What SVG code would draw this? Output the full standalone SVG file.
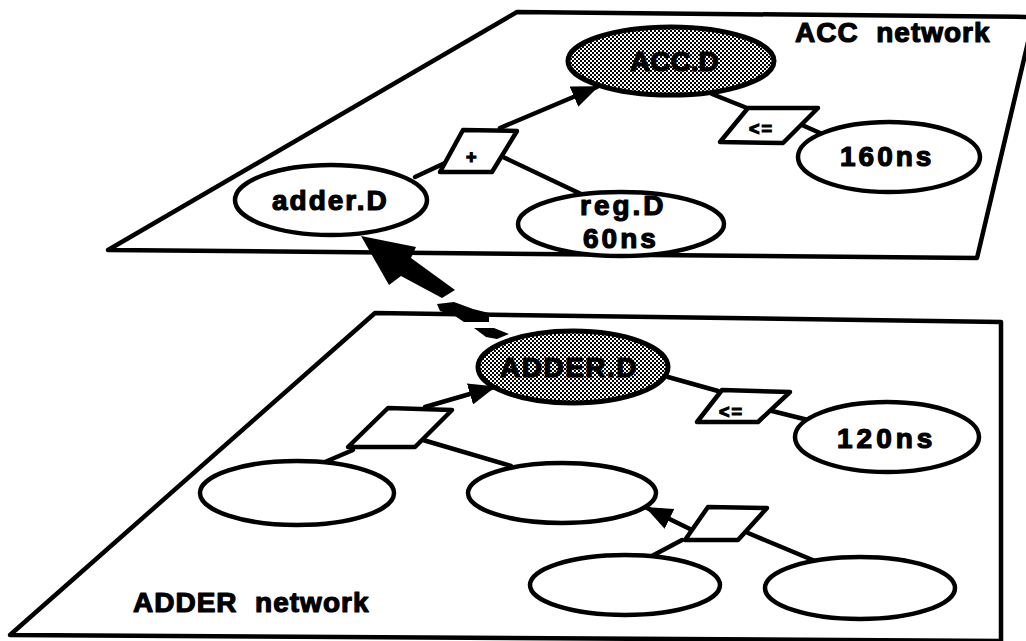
<svg xmlns="http://www.w3.org/2000/svg" width="1026" height="641" viewBox="0 0 1026 641">
  <style>
    .plane { fill: #fff; stroke: #000; stroke-width: 4.5; stroke-linejoin: round; }
    .node { fill: #fff; stroke: #000; stroke-width: 4.5; }
    .shaded { fill: url(#halftone); stroke: #000; stroke-width: 5; }
    .op { fill: #fff; stroke: #000; stroke-width: 4.5; stroke-linejoin: round; }
    .edge { fill: none; stroke: #000; stroke-width: 4.5; stroke-linecap: round; }
    .lbl { font-family: "Liberation Sans", Arial, sans-serif; font-weight: bold; font-size: 28px; fill: #000; stroke: #000; stroke-width: 1.2px; stroke-linejoin: round; }
    .num { letter-spacing: 3px; }
    .title { white-space: pre; letter-spacing: 1px; }
    .opl { font-family: "Liberation Sans", Arial, sans-serif; font-weight: bold; font-size: 18px; fill: #000; stroke: #000; stroke-width: 1.2px; letter-spacing: 2px; }
  </style>
  <defs>
    <!-- halftone screen used for the highlighted nodes -->
    <pattern id="halftone" patternUnits="userSpaceOnUse" width="4" height="4">
      <rect width="4" height="4" fill="#fff"/>
      <rect x="0" y="0" width="2" height="2" fill="#000"/>
      <rect x="2" y="2" width="2" height="2" fill="#000"/>
    </pattern>
    <marker id="head" markerUnits="userSpaceOnUse" markerWidth="28" markerHeight="22" refX="25" refY="11" orient="auto">
      <path d="M0,0 L27,11 L0,22 Z" fill="#000"/>
    </marker>
  </defs>

  <!-- the two network planes -->
  <g id="plane-acc">
    <polygon class="plane" points="517,12 1034,17 977,258 108,250"/>
    <text class="lbl title" x="795" y="42">ACC  network</text>
  </g>
  <g id="plane-adder">
    <polygon class="plane" points="375,313 1001,322 1001,641 10,635"/>
    <text class="lbl title" x="133" y="612">ADDER  network</text>
  </g>

  <!-- connectors -->
  <g id="connectors">
    <!-- ACC plane -->
    <line class="edge" x1="415" y1="177" x2="445" y2="163"/>
    <line class="edge" x1="500" y1="128" x2="597" y2="87" marker-end="url(#head)"/>
    <line class="edge" x1="503" y1="157" x2="581" y2="194"/>
    <line class="edge" x1="712" y1="94" x2="752" y2="110"/>
    <line class="edge" x1="802" y1="125" x2="820" y2="133"/>
    <!-- ADDER plane -->
    <line class="edge" x1="325" y1="462" x2="353" y2="450"/>
    <line class="edge" x1="425" y1="407" x2="494" y2="387" marker-end="url(#head)"/>
    <line class="edge" x1="423" y1="440" x2="511" y2="466"/>
    <line class="edge" x1="668" y1="377" x2="718" y2="391"/>
    <line class="edge" x1="768" y1="410" x2="808" y2="420"/>
    <line class="edge" x1="692" y1="530" x2="647" y2="508" marker-end="url(#head)"/>
    <line class="edge" x1="682" y1="540" x2="650" y2="557"/>
    <line class="edge" x1="748" y1="533" x2="815" y2="561"/>
    <!-- refinement arrow between the planes -->
    <g id="refines" fill="#000">
      <polygon points="361,236 416,247 411,258 455,290 442,298 401,276 389,285"/>
      <polygon points="437,304 454,302 473,309 489,313 489,322 464,322 455,316 440,311"/>
      <polygon points="474,328 494,328 509,334 497,339 486,337"/>
    </g>
  </g>

  <!-- ACC network nodes -->
  <g id="acc-d">
    <ellipse class="shaded" cx="671" cy="61" rx="103" ry="34"/>
    <text class="lbl" x="630" y="71">ACC.D</text>
  </g>
  <g id="op-plus">
    <polygon class="op" points="463,130 517,131 492,172 440,172"/>
    <text class="opl" x="466" y="163" style="letter-spacing:0">+</text>
  </g>
  <g id="adder-d">
    <ellipse class="node" cx="331" cy="200" rx="96" ry="35"/>
    <text class="lbl" x="272" y="210" style="letter-spacing:2px">adder.D</text>
  </g>
  <g id="reg-d">
    <ellipse class="node" cx="621" cy="224" rx="103" ry="32"/>
    <text class="lbl num" x="580" y="215">reg.D</text>
    <text class="lbl num" x="583" y="248">60ns</text>
  </g>
  <g id="op-le-acc">
    <polygon class="op" points="748,108 818,108 783,143 720,142"/>
    <text class="opl" x="749" y="135">&lt;=</text>
  </g>
  <g id="t160">
    <ellipse class="node" cx="889" cy="157" rx="91" ry="35"/>
    <text class="lbl num" x="840" y="166">160ns</text>
  </g>

  <!-- ADDER network nodes -->
  <g id="adder-d-up">
    <ellipse class="shaded" cx="573" cy="367" rx="95" ry="36"/>
    <text class="lbl" x="500" y="377" style="letter-spacing:1.5px">ADDER.D</text>
  </g>
  <g id="op-add">
    <polygon class="op" points="388,408 452,410 415,447 348,447"/>
  </g>
  <g id="in-a">
    <ellipse class="node" cx="297" cy="493" rx="97" ry="32"/>
  </g>
  <g id="in-b">
    <ellipse class="node" cx="562" cy="493" rx="94" ry="30"/>
  </g>
  <g id="op-le-adder">
    <polygon class="op" points="722,390 790,392 758,422 697,422"/>
    <text class="opl" x="719" y="418">&lt;=</text>
  </g>
  <g id="t120">
    <ellipse class="node" cx="887" cy="437" rx="92" ry="35"/>
    <text class="lbl num" x="837" y="448" style="letter-spacing:4px">120ns</text>
  </g>
  <g id="op-sub">
    <polygon class="op" points="708,507 767,508 738,540 685,540"/>
  </g>
  <g id="in-c">
    <ellipse class="node" cx="625" cy="585" rx="95" ry="30"/>
  </g>
  <g id="in-d">
    <ellipse class="node" cx="860" cy="588" rx="95" ry="31"/>
  </g>
</svg>
